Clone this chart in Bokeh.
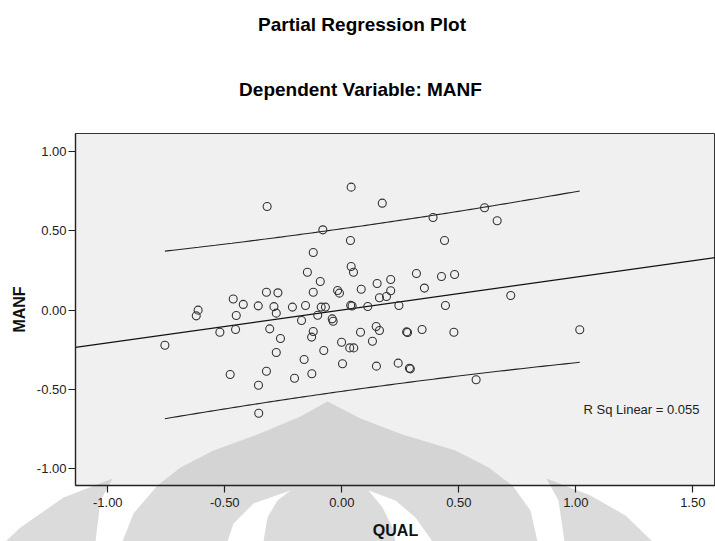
import numpy as np
from bokeh.plotting import figure
from bokeh.models import (Range1d, FixedTicker, NumeralTickFormatter, Label,
                          ColumnDataSource)
from bokeh.embed import file_html
from bokeh.resources import INLINE

# ---- data ----
qual = [-0.319, -0.081, 0.040, 0.037, -0.122, 0.040, 0.050, -0.147, -0.092, -0.322,
        -0.273, -0.122, -0.018, -0.010, -0.464, -0.421, -0.357, -0.290, -0.211, -0.155,
        -0.088, -0.070, -0.614, -0.622, -0.451, -0.280, -0.172, -0.103, -0.041, -0.037,
        0.038, 0.044, -0.521, -0.454, -0.308, -0.262, -0.122, -0.129, -0.756, -0.280,
        -0.077, -0.001, 0.034, 0.051, -0.161, 0.003, -0.477, -0.322, -0.202, -0.128,
        -0.356, -0.355, 0.173, 0.390, 0.610, 0.664, 0.439, 0.209, 0.319, 0.426,
        0.482, 0.151, 0.083, 0.353, 0.209, 0.161, 0.191, 0.111, 0.244, 0.443,
        0.722, 0.080, 0.147, 0.161, 0.277, 0.281, 0.343, 0.479, 0.131, 0.148,
        0.241, 0.289, 0.293, 0.574, 1.017]
manf = [0.653, 0.506, 0.775, 0.439, 0.363, 0.275, 0.239, 0.239, 0.180, 0.113,
        0.109, 0.113, 0.124, 0.107, 0.070, 0.036, 0.027, 0.022, 0.019, 0.029,
        0.019, 0.019, 0.000, -0.036, -0.034, -0.019, -0.065, -0.032, -0.055, -0.070,
        0.030, 0.026, -0.139, -0.122, -0.118, -0.179, -0.135, -0.170, -0.221, -0.267,
        -0.254, -0.202, -0.238, -0.238, -0.311, -0.338, -0.406, -0.385, -0.429, -0.401,
        -0.473, -0.650, 0.674, 0.584, 0.645, 0.563, 0.439, 0.193, 0.231, 0.212,
        0.225, 0.168, 0.132, 0.139, 0.122, 0.078, 0.086, 0.023, 0.029, 0.029,
        0.092, -0.139, -0.103, -0.128, -0.137, -0.141, -0.122, -0.139, -0.196, -0.353,
        -0.334, -0.366, -0.370, -0.439, -0.124]
x_ticks = [-1.0, -0.5, 0.0, 0.5, 1.0, 1.5]
y_ticks = [-1.0, -0.5, 0.0, 0.5, 1.0]
resid_sd = 0.256
t_crit = 1.989            # t(0.975, n-2)
title_text = "Partial Regression Plot"
subtitle_text = "Dependent Variable: MANF"
rsq_text = "R Sq Linear = 0.055"

assert len(qual) == len(manf)

# ---- layout ----
W, H = 715, 541
FL, FT, FR, FB = 75, 133, 715, 485   # frame edges in page pixels
X0, X1, Y0, Y1 = -1.138, 1.597, -1.105, 1.113
FONT = "Liberation Sans"

p = figure(width=W, height=H, output_backend="svg", toolbar_location=None,
           x_range=Range1d(X0, X1), y_range=Range1d(Y0, Y1),
           min_border_left=FL, min_border_right=W - FR, min_border_top=FT,
           min_border_bottom=H - FB, title=None)
p.background_fill_color = "#f0f0f0"
p.border_fill_color = "white"
p.outline_line_color = "#333333"
p.outline_line_width = 1
p.xgrid.visible = False
p.ygrid.visible = False

for ax, ticks in ((p.xaxis[0], x_ticks), (p.yaxis[0], y_ticks)):
    ax.level = "annotation"          # draw axes on top of the watermark
    ax.ticker = FixedTicker(ticks=ticks)
    ax.formatter = NumeralTickFormatter(format="0.00")
    ax.minor_tick_line_color = None
    ax.major_tick_in = 0
    ax.major_tick_out = 7
    ax.axis_line_color = "#222222"
    ax.axis_line_width = 1.4
    ax.major_tick_line_color = "#222222"
    ax.major_tick_line_width = 1.2
    ax.major_label_text_font = FONT
    ax.major_label_text_font_size = "13px"
    ax.major_label_text_color = "#222222"
    ax.axis_label_text_font = FONT
    ax.axis_label_text_font_size = "16px"
    ax.axis_label_text_font_style = "bold"
    ax.axis_label_text_color = "#111111"

p.xaxis.axis_label = "QUAL"
p.xaxis.major_label_standoff = 5
p.xaxis.axis_label_standoff = 12
p.yaxis.axis_label = "MANF"
p.yaxis.major_label_standoff = 2
p.yaxis.axis_label_standoff = 6

# texts in the "above" side panel: relative to its bottom-left (frame left, frame top)
def to_panel(x, y):
    return x - FL, FT - y

# page pixel outline -> data coordinates (watermark decoration only)
def px_to_data(pts):
    xs = [X0 + (x - FL) / (FR - FL) * (X1 - X0) for x, _ in pts]
    ys = [Y1 - (y - FT) / (FB - FT) * (Y1 - Y0) for _, y in pts]
    return xs, ys

# ---- watermark (decorative, page-pixel outlines; dome has two claw notches) ----
dome = [(327, 401), (300, 416), (257, 434), (213, 450), (180, 467), (157, 485),
        (133, 513), (122, 541),
        (227, 541), (233, 523), (253, 503), (290, 490), (277, 500), (267, 517), (263, 541),
        (395, 541), (392, 527), (382, 507), (368, 490), (395, 500), (415, 517), (432, 541),
        (537, 541), (530, 510), (512, 485), (488, 467),
        (455, 450), (402, 434), (360, 418)]
wing_l = [(112, 478), (100, 500), (95, 541), (5, 541), (20, 527), (63, 497)]
wing_r = [(546, 478), (590, 495), (625, 515), (652, 541), (564, 541), (558, 500)]

gray = [px_to_data(s) for s in (dome, wing_l, wing_r)]
p.patches([g[0] for g in gray], [g[1] for g in gray], fill_color="#bdbdbd",
          fill_alpha=0.55, line_color=None, level="guide")

# ---- regression fit and 95% individual prediction band ----
xa = np.array(qual)
ya = np.array(manf)
n = len(xa)
b, a = np.polyfit(xa, ya, 1)
sxx = np.sum((xa - xa.mean()) ** 2)
xg = np.linspace(xa.min(), xa.max(), 100)
half = t_crit * resid_sd * np.sqrt(1 + 1 / n + (xg - xa.mean()) ** 2 / sxx)
fit_g = a + b * xg

x_full = np.array([X0, X1])
p.line(x_full, a + b * x_full, line_color="#111111", line_width=1.3)
p.line(xg, fit_g + half, line_color="#222222", line_width=1.1)
p.line(xg, fit_g - half, line_color="#222222", line_width=1.1)

src = ColumnDataSource(dict(x=qual, y=manf))
p.scatter("x", "y", source=src, marker="circle", size=8, fill_color=None,
          line_color="#333333", line_width=1.1)

# ---- texts ----
p.add_layout(Label(x=1.033, y=-0.626, text=rsq_text, text_font=FONT,
                   text_font_size="13px", text_color="#222222",
                   text_baseline="alphabetic", text_align="left"))
tx, ty = to_panel(361.5, 24)
p.add_layout(Label(x=tx, y=ty, x_units="screen", y_units="screen",
                   text=title_text, text_font=FONT, text_font_size="19px",
                   text_font_style="bold", text_color="black",
                   text_align="center", text_baseline="alphabetic"), "above")
sx_, sy_ = to_panel(360, 110)
p.add_layout(Label(x=sx_, y=sy_, x_units="screen", y_units="screen",
                   text=subtitle_text, text_font=FONT, text_font_size="19px",
                   text_font_style="bold", text_color="black",
                   text_align="center", text_baseline="alphabetic"), "above")

open("out.html", "w").write(file_html(p, INLINE))
